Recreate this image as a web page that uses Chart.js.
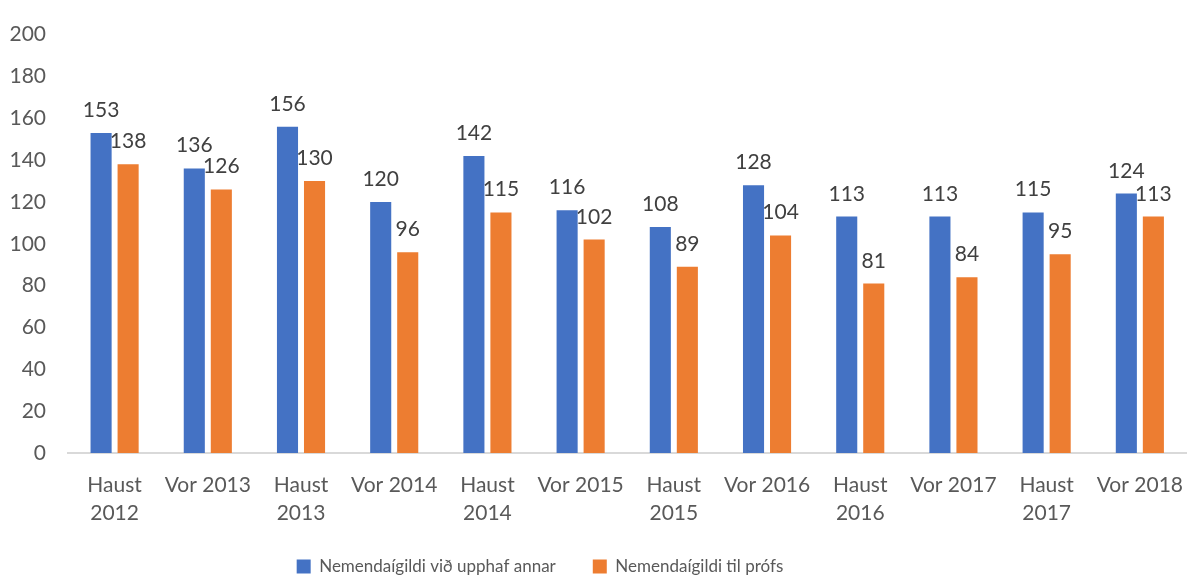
<!DOCTYPE html>
<html>
<head>
<meta charset="utf-8">
<script src="https://cdn.jsdelivr.net/npm/chart.js@4/dist/chart.umd.min.js"></script>
<style>
html,body{margin:0;padding:0;background:#fff;}
#wrap{width:1201px;height:577px;position:relative;}
</style>
</head>
<body>
<div id="wrap"><canvas id="c" width="1201" height="577"></canvas></div>
<script>
const categories = [["Haust","2012"],"Vor 2013",["Haust","2013"],"Vor 2014",["Haust","2014"],"Vor 2015",["Haust","2015"],"Vor 2016",["Haust","2016"],"Vor 2017",["Haust","2017"],"Vor 2018"];
const seriesNames = ["Nemendaígildi við upphaf annar","Nemendaígildi til prófs"];
const upphaf = [153,136,156,120,142,116,108,128,113,113,115,124];
const profs = [138,126,130,96,115,102,89,104,81,84,95,113];
const yTicks = [0,20,40,60,80,100,120,140,160,180,200];

const FONT = "Lato, 'Open Sans', sans-serif";

const labelPlugin = {
  id: 'valueLabels',
  beforeDraw(chart) {
    if (chart.legend) { chart.legend.right = 1080; }
  },
  afterDatasetsDraw(chart) {
    const ctx = chart.ctx;
    ctx.save();
    ctx.font = "21px " + FONT;
    ctx.fillStyle = "#404040";
    ctx.textAlign = "center";
    ctx.textBaseline = "alphabetic";
    chart.data.datasets.forEach((ds, i) => {
      const meta = chart.getDatasetMeta(i);
      meta.data.forEach((bar, j) => {
        ctx.fillText(String(ds.data[j]), bar.x, bar.y - 16);
      });
    });
    ctx.restore();
  }
};

new Chart(document.getElementById('c'), {
  type: 'bar',
  data: {
    labels: categories,
    datasets: [
      { label: seriesNames[0], data: upphaf, backgroundColor: '#4472C4', categoryPercentage: 0.58, barPercentage: 0.78 },
      { label: seriesNames[1], data: profs, backgroundColor: '#ED7D31', categoryPercentage: 0.58, barPercentage: 0.78 }
    ]
  },
  options: {
    responsive: false,
    animation: false,
    layout: { padding: { top: 15, right: 0, left: 0, bottom: -8 } },
    plugins: {
      legend: {
        position: 'bottom',
        labels: {
          font: { family: FONT, size: 17 },
          color: '#595959',
          boxWidth: 14, boxHeight: 14,
          padding: 37
        }
      },
      tooltip: { enabled: false }
    },
    scales: {
      x: {
        afterFit(axis) { axis.height = 68; },
        grid: { display: false, drawTicks: false },
        border: { display: true, color: '#d9d9d9', width: 2 },
        ticks: { font: { family: FONT, size: 21, lineHeight: 1.33 }, color: '#595959', padding: 18, maxRotation: 0, autoSkip: false }
      },
      y: {
        min: 0, max: 200,
        afterBuildTicks(axis) { axis.ticks = yTicks.map(v => ({ value: v })); },
        afterFit(axis) { axis.width = 68; },
        grid: { display: false, drawTicks: false },
        border: { display: false },
        ticks: { font: { family: FONT, size: 21 }, color: '#595959', padding: 22 }
      }
    }
  },
  plugins: [labelPlugin]
});
</script>
</body>
</html>
